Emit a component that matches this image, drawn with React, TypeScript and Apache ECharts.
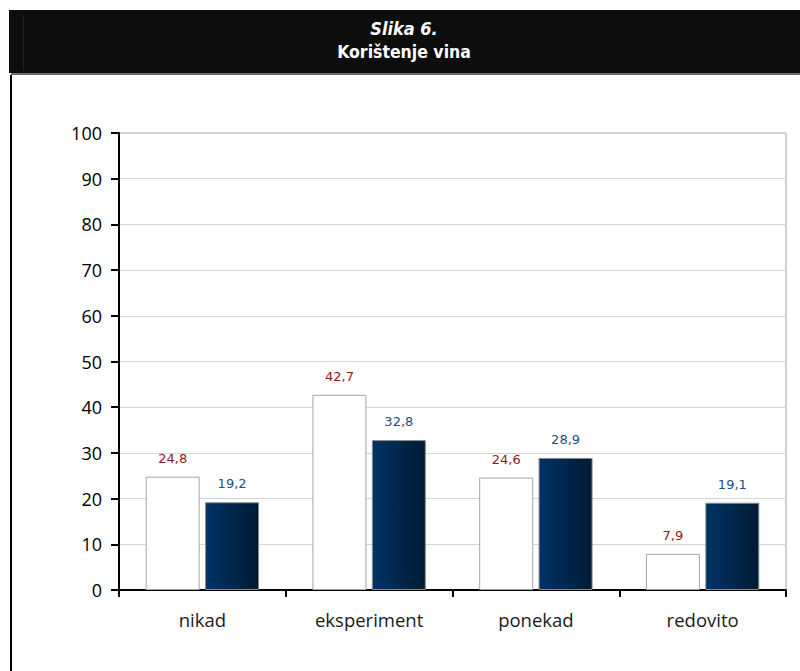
import React, { useEffect, useRef } from "react";
import * as echarts from "echarts";

const categories = ["nikad", "eksperiment", "ponekad", "redovito"];
const seriesA = [24.8, 42.7, 24.6, 7.9];
const seriesB = [19.2, 32.8, 28.9, 19.1];
const titleLine1 = "Slika 6.";
const titleLine2 = "Korištenje vina";

const fmt = (v: number) => v.toFixed(1).replace(".", ",");

export default function App() {
  const ref = useRef<HTMLDivElement>(null);
  useEffect(() => {
    if (!ref.current) return;
    const chart = echarts.init(ref.current, null, { renderer: "svg" });
    chart.setOption({
      animation: false,
      backgroundColor: "#ffffff",
      grid: {
        left: 119,
        right: 14,
        top: 133,
        bottom: 81,
        show: true,
        borderColor: "#a6a6a6",
        borderWidth: 1,
        backgroundColor: "transparent",
      },
      graphic: [
        { type: "rect", shape: { x: 9, y: 10, width: 791, height: 63 }, style: { fill: "#0d0d0d" } },
        { type: "rect", shape: { x: 23, y: 15, width: 1, height: 55 }, style: { fill: "#222222" } },
        { type: "rect", shape: { x: 11, y: 73, width: 789, height: 2 }, style: { fill: "#6b6b6b" } },
        { type: "rect", shape: { x: 10, y: 75, width: 2, height: 596 }, style: { fill: "#000000" } },
        {
          type: "text",
          x: 404,
          y: 28,
          style: {
            text: titleLine1,
            fill: "#ffffff",
            font: "italic bold 18px 'DejaVu Sans Condensed', 'DejaVu Sans', sans-serif",
            align: "center",
            verticalAlign: "middle",
          },
        },
        {
          type: "text",
          x: 404,
          y: 52,
          style: {
            text: titleLine2,
            fill: "#ffffff",
            font: "bold 17.5px 'DejaVu Sans Condensed', 'DejaVu Sans', sans-serif",
            align: "center",
            verticalAlign: "middle",
          },
        },
      ],
      xAxis: {
        type: "category",
        data: categories,
        axisLine: { show: true, lineStyle: { color: "#000000", width: 2 } },
        axisTick: { show: true, length: 7, lineStyle: { color: "#000000", width: 2 } },
        axisLabel: {
          color: "#1a1a1a",
          fontSize: 18.5,
          fontFamily: "'Open Sans', sans-serif",
          margin: 20,
        },
        splitLine: { show: false },
      },
      yAxis: {
        type: "value",
        min: 0,
        max: 100,
        interval: 10,
        axisLine: { show: true, lineStyle: { color: "#000000", width: 2 } },
        axisTick: { show: true, length: 8, lineStyle: { color: "#000000", width: 2 } },
        axisLabel: {
          color: "#000000",
          fontSize: 18,
          fontFamily: "'Open Sans', sans-serif",
          margin: 17,
        },
        splitLine: { show: true, lineStyle: { color: "#d4d4d4", width: 1 } },
      },
      series: [
        {
          type: "bar",
          data: seriesA,
          barWidth: 54,
          barGap: "10%",
          itemStyle: { color: "#ffffff", borderColor: "#a6a6a6", borderWidth: 1 },
          label: {
            show: true,
            position: "top",
            distance: 12,
            color: "#8e1a1a",
            fontSize: 13,
            fontFamily: "'DejaVu Sans', sans-serif",
            formatter: (p: any) => fmt(p.value),
          },
        },
        {
          type: "bar",
          data: seriesB,
          barWidth: 54,
          barGap: "10%",
          itemStyle: {
            color: new echarts.graphic.LinearGradient(0, 0, 1, 0, [
              { offset: 0, color: "#003366" },
              { offset: 1, color: "#001a33" },
            ]),
            borderColor: "#8c8c8c",
            borderWidth: 1,
          },
          label: {
            show: true,
            position: "top",
            distance: 12,
            color: "#1b4f80",
            fontSize: 13,
            fontFamily: "'DejaVu Sans', sans-serif",
            formatter: (p: any) => fmt(p.value),
          },
        },
      ],
    });
    return () => chart.dispose();
  }, []);
  return (
    <div
      ref={ref}
      style={{ position: "fixed", left: 0, top: 0, width: 800, height: 671 }}
    />
  );
}
